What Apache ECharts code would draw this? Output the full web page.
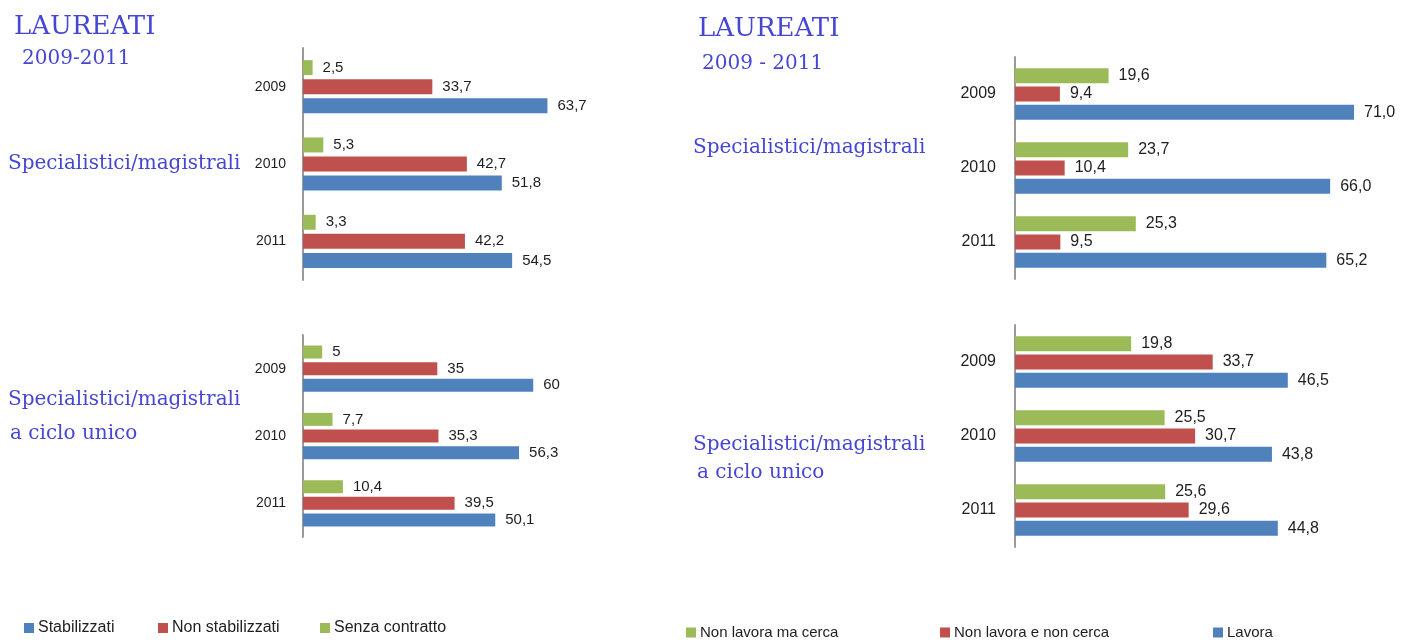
<!DOCTYPE html>
<html>
<head>
<meta charset="utf-8">
<script src="https://cdn.jsdelivr.net/npm/echarts@6/dist/echarts.min.js"></script>
<style>
  html, body { margin: 0; padding: 0; background: #fff; }
  #chart { width: 1402px; height: 642px; }
</style>
</head>
<body>
<div id="chart"></div>
<script>
// categorie
const years = ['2009', '2010', '2011'];

// sinistra: stato contrattuale
const stabSpec = [63.7, 51.8, 54.5];
const nonStabSpec = [33.7, 42.7, 42.2];
const senzaSpec = [2.5, 5.3, 3.3];
const stabCiclo = [60, 56.3, 50.1];
const nonStabCiclo = [35, 35.3, 39.5];
const senzaCiclo = [5, 7.7, 10.4];

// destra: condizione occupazionale
const cercaSpec = [19.6, 23.7, 25.3];
const nonCercaSpec = [9.4, 10.4, 9.5];
const lavoraSpec = [71.0, 66.0, 65.2];
const cercaCiclo = [19.8, 25.5, 25.6];
const nonCercaCiclo = [33.7, 30.7, 29.6];
const lavoraCiclo = [46.5, 43.8, 44.8];

const BLUE = '#4f81bd', RED = '#c0504d', GREEN = '#9bbb59';
const serif = 'DejaVu Serif';
const sans = 'Liberation Sans';
const titleColor = '#4646d4';

var myChart = echarts.init(document.getElementById('chart'));

function commaLeft(p) { return String(p.value).replace('.', ','); }
function commaRight(p) { return p.value.toFixed(1).replace('.', ','); }

function bar(name, data, idx, color, bw, gap, fmt, fs) {
  return {
    name: name,
    type: 'bar',
    xAxisIndex: idx,
    yAxisIndex: idx,
    data: data,
    barWidth: bw,
    barGap: gap,
    itemStyle: { color: color },
    label: {
      show: true,
      position: 'right',
      distance: 10,
      color: '#1e1e1e',
      fontFamily: sans,
      fontSize: fs,
      formatter: fmt
    },
    animation: false
  };
}

function yAx(idx, fs, margin) {
  return {
    type: 'category',
    gridIndex: idx,
    data: years,
    inverse: true,
    axisTick: { show: false },
    axisLine: { lineStyle: { color: '#9a9a9a', width: 2 } },
    axisLabel: { color: '#1e1e1e', fontFamily: sans, fontSize: fs, margin: margin }
  };
}

function xAx(idx, max) {
  return { type: 'value', gridIndex: idx, min: 0, max: max, show: false };
}

function txt(text, left, top, size) {
  return {
    text: text, left: left, top: top, padding: 0,
    textStyle: { fontFamily: serif, fontWeight: 'normal', fontSize: size, color: titleColor }
  };
}

function leg(name, left, top, fs) {
  return {
    data: [name], left: left, top: top, padding: 0,
    icon: 'rect', itemWidth: 10, itemHeight: 10,
    textStyle: { fontFamily: sans, fontSize: fs, color: '#1e1e1e', padding: [0, 0, 0, -1] }
  };
}

var option = {
  backgroundColor: '#fff',
  title: [
    txt('LAUREATI', 14, 14, 26),
    txt('2009-2011', 22, 49, 20),
    txt('Specialistici/magistrali', 8, 154, 20),
    txt('Specialistici/magistrali', 8, 390, 20),
    txt('a ciclo unico', 10, 424, 20),
    txt('LAUREATI', 698, 16, 26),
    txt('2009 - 2011', 702, 54, 20),
    txt('Specialistici/magistrali', 693, 138, 20),
    txt('Specialistici/magistrali', 693, 435, 20),
    txt('a ciclo unico', 697, 463, 20)
  ],
  legend: [
    leg('Stabilizzati', 24, 620, 16),
    leg('Non stabilizzati', 158, 620, 16),
    leg('Senza contratto', 320, 620, 16),
    leg('Non lavora ma cerca', 686, 625, 15),
    leg('Non lavora e non cerca', 940, 625, 15),
    leg('Lavora', 1213, 625, 15)
  ],
  grid: [
    { left: 303, top: 48, width: 307, height: 232 },
    { left: 303, top: 335, width: 307, height: 202 },
    { left: 1015, top: 57, width: 382, height: 222 },
    { left: 1015, top: 325, width: 352, height: 222 }
  ],
  xAxis: [xAx(0, 80), xAx(1, 80), xAx(2, 80), xAx(3, 60)],
  yAxis: [yAx(0, 14, 17), yAx(1, 14, 17), yAx(2, 16, 19), yAx(3, 16, 19)],
  series: [
    bar('Senza contratto', senzaSpec, 0, GREEN, 15, '27%', commaLeft, 15),
    bar('Non stabilizzati', nonStabSpec, 0, RED, 15, '27%', commaLeft, 15),
    bar('Stabilizzati', stabSpec, 0, BLUE, 15, '27%', commaLeft, 15),

    bar('Senza contratto', senzaCiclo, 1, GREEN, 13, '28%', commaLeft, 15),
    bar('Non stabilizzati', nonStabCiclo, 1, RED, 13, '28%', commaLeft, 15),
    bar('Stabilizzati', stabCiclo, 1, BLUE, 13, '28%', commaLeft, 15),

    bar('Non lavora ma cerca', cercaSpec, 2, GREEN, 15, '22%', commaRight, 16),
    bar('Non lavora e non cerca', nonCercaSpec, 2, RED, 15, '22%', commaRight, 16),
    bar('Lavora', lavoraSpec, 2, BLUE, 15, '22%', commaRight, 16),

    bar('Non lavora ma cerca', cercaCiclo, 3, GREEN, 15, '22%', commaRight, 16),
    bar('Non lavora e non cerca', nonCercaCiclo, 3, RED, 15, '22%', commaRight, 16),
    bar('Lavora', lavoraCiclo, 3, BLUE, 15, '22%', commaRight, 16)
  ]
};
myChart.setOption(option);
</script>
</body>
</html>
